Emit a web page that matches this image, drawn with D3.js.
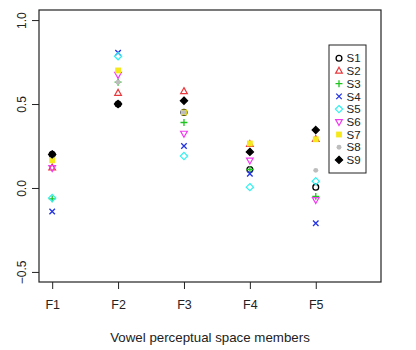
<!DOCTYPE html>
<html>
<head>
<meta charset="utf-8">
<script src="https://cdn.jsdelivr.net/npm/d3@7"></script>
<style>
  body { margin:0; background:#fff; }
  text { font-family: "Liberation Sans", Arial, sans-serif; fill:#222; }
</style>
</head>
<body>
<svg id="viz-svg" width="416" height="350"></svg>
<script>
// categories and series
var members = ["F1","F2","F3","F4","F5"]
  , series = ["S1","S2","S3","S4","S5","S6","S7","S8","S9"]
  , yTicks = [-0.5, 0, 0.5, 1.0]
  , S1 = [0.20, 0.50, 0.45, 0.11, 0.005]
  , S2 = [0.12, 0.565, 0.575, 0.26, 0.29]
  , S3 = [-0.065, 0.63, 0.39, 0.11, -0.05]
  , S4 = [-0.14, 0.805, 0.25, 0.085, -0.21]
  , S5 = [-0.06, 0.785, 0.19, 0.005, 0.04]
  , S6 = [0.12, 0.675, 0.325, 0.165, -0.07]
  , S7 = [0.165, 0.70, 0.45, 0.265, 0.29]
  , S8 = [0.19, 0.63, 0.45, 0.215, 0.105]
  , S9 = [0.20, 0.50, 0.52, 0.215, 0.345]
  , values = [S1,S2,S3,S4,S5,S6,S7,S8,S9]
  ;

var colors = ["#000000","#e8383d","#1fc41f","#2233e6","#33f0f0","#f03cf0","#f5e81c","#bdbdbd","#000000"]
  , shapes = ["circle","triangle","plus","cross","diamond","triangleDown","square","dot","fdiamond"]
  , margin = {left:39, top:10, right:35, bottom:68}
  , width = 416
  , height = 350
  ;

var svg = d3.select("#viz-svg");

var x = d3.scaleLinear().domain([0.8, 5.99]).range([margin.left, width - margin.right]);
var y = d3.scaleLinear().domain([-0.56, 1.06]).range([height - margin.bottom, margin.top]);

// draw one point symbol in R style
function symbol(g, shape, col, cx, cy){
  var r = 2.9;
  if (shape=="circle"){
    g.append("circle").attr("cx",cx).attr("cy",cy).attr("r",r)
      .attr("fill","none").attr("stroke",col).attr("stroke-width",1.3);
  } else if (shape=="dot"){
    g.append("circle").attr("cx",cx).attr("cy",cy).attr("r",r*0.85)
      .attr("fill",col).attr("stroke","none");
  } else if (shape=="triangle"){
    g.append("path").attr("d",d3.line()([[cx,cy-r*1.3],[cx+r*1.15,cy+r*0.75],[cx-r*1.15,cy+r*0.75]])+"Z")
      .attr("fill","none").attr("stroke",col).attr("stroke-width",1.2);
  } else if (shape=="triangleDown"){
    g.append("path").attr("d",d3.line()([[cx,cy+r*1.3],[cx+r*1.15,cy-r*0.75],[cx-r*1.15,cy-r*0.75]])+"Z")
      .attr("fill","none").attr("stroke",col).attr("stroke-width",1.2);
  } else if (shape=="plus"){
    g.append("path").attr("d","M"+(cx-r*1.2)+","+cy+"H"+(cx+r*1.2)+"M"+cx+","+(cy-r*1.2)+"V"+(cy+r*1.2))
      .attr("stroke",col).attr("stroke-width",1.3);
  } else if (shape=="cross"){
    var a = r*0.95;
    g.append("path").attr("d","M"+(cx-a)+","+(cy-a)+"L"+(cx+a)+","+(cy+a)+"M"+(cx-a)+","+(cy+a)+"L"+(cx+a)+","+(cy-a))
      .attr("stroke",col).attr("stroke-width",1.3);
  } else if (shape=="diamond" || shape=="fdiamond"){
    var d = r*1.25;
    g.append("path").attr("d",d3.line()([[cx,cy-d],[cx+d,cy],[cx,cy+d],[cx-d,cy]])+"Z")
      .attr("fill", shape=="fdiamond" ? col : "none")
      .attr("stroke",col).attr("stroke-width",1.2);
  } else if (shape=="square"){
    g.append("rect").attr("x",cx-r).attr("y",cy-r).attr("width",2*r).attr("height",2*r)
      .attr("fill",col);
  }
}

// points
var pts = svg.append("g").attr("id","points");
values.forEach(function(vals, si){
  vals.forEach(function(v, i){
    symbol(pts, shapes[si], colors[si], x(i+1), y(v));
  });
});

// frame
svg.append("rect")
  .attr("x", margin.left).attr("y", margin.top)
  .attr("width", width - margin.right - margin.left)
  .attr("height", height - margin.bottom - margin.top)
  .attr("fill","none").attr("stroke","#222").attr("stroke-width",1.2);

// y axis
var yAxis = svg.append("g")
  .attr("transform","translate("+margin.left+",0)")
  .call(d3.axisLeft(y).tickValues(yTicks).tickSize(7).tickFormat(d3.format(".1f")));
yAxis.select(".domain").remove();
yAxis.selectAll("line").attr("stroke","#222");
yAxis.selectAll("text")
  .attr("transform","rotate(-90)")
  .attr("text-anchor","middle")
  .attr("x",0).attr("y",-17).attr("dy","0.35em")
  .style("font-size","12px").style("font-family","Liberation Sans, Arial, sans-serif").attr("fill","#333");

// x axis
var xAxis = svg.append("g")
  .attr("transform","translate(0,"+(height - margin.bottom)+")")
  .call(d3.axisBottom(x).tickValues([1,2,3,4,5]).tickSize(7).tickPadding(11)
    .tickFormat(function(d){ return members[d-1]; }));
xAxis.select(".domain").remove();
xAxis.selectAll("line").attr("stroke","#222");
xAxis.selectAll("text").style("font-size","12.5px").style("font-family","Liberation Sans, Arial, sans-serif").attr("fill","#333");

svg.append("text")
  .attr("x", 210).attr("y", 342)
  .attr("text-anchor","middle")
  .style("font-size","13.3px")
  .attr("fill","#333")
  .text("Vowel perceptual space members");

// legend
var legend = svg.append("g").attr("id","legend");
legend.append("rect")
  .attr("x",329).attr("y",45).attr("width",37).attr("height",128)
  .attr("fill","#fff").attr("stroke","#222").attr("stroke-width",1);
series.forEach(function(s, i){
  var ly = 58.3 + i*12.7;
  var g = legend.append("g");
  symbol(g, shapes[i], colors[i], 339, ly);
  g.append("text").attr("x",346.5).attr("y",ly).attr("dy","0.36em")
    .style("font-size","11.5px").attr("fill","#333").text(s);
});
</script>
</body>
</html>
